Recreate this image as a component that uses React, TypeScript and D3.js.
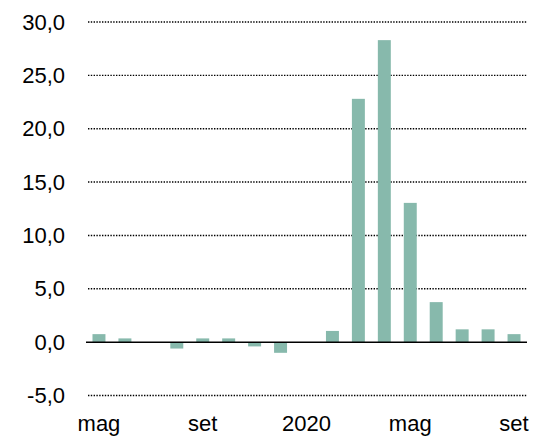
import React from "react";
import * as d3 from "d3";

const months = ["2019-05","2019-06","2019-07","2019-08","2019-09","2019-10","2019-11","2019-12","2020-01","2020-02","2020-03","2020-04","2020-05","2020-06","2020-07","2020-08","2020-09"];
const values = [0.75, 0.35, 0, -0.6, 0.35, 0.35, -0.4, -1.0, 0, 1.05, 22.8, 28.3, 13.05, 3.75, 1.2, 1.2, 0.75];
const xLabels: Record<string, string> = { "2019-05": "mag", "2019-09": "set", "2020-01": "2020", "2020-05": "mag", "2020-09": "set" };
const yTicks = [-5, 0, 5, 10, 15, 20, 25, 30];

export default function App() {
  const W = 541, H = 439;
  const left = 86, right = 527;
  const x = d3.scaleBand<string>().domain(months).range([left, right]).paddingInner(0.5).paddingOuter(0.25);
  const y = d3.scaleLinear().domain([-5, 30]).range([395.5, 22]);
  const fmt = (v: number) => v.toFixed(1).replace(".", ",");
  const font = "Liberation Sans, Arial, sans-serif";
  return (
    <svg width={W} height={H} style={{ position: "absolute", left: 0, top: 0 }}>
      <rect width={W} height={H} fill="#fff" />
      {yTicks.filter(t => t !== 0).map(t => (
        <line key={t} x1={left + 2} x2={right} y1={y(t)} y2={y(t)} stroke="#000" strokeWidth={1.4} strokeDasharray="1.4,1.4" />
      ))}
      {months.map((m, i) => {
        const v = values[i];
        const y0 = y(0), y1 = y(v);
        return (
          <rect key={m} x={x(m)} width={x.bandwidth()} y={Math.min(y0, y1)} height={Math.abs(y1 - y0)} fill="#87b9ac" />
        );
      })}
      <line x1={left} x2={right} y1={y(0)} y2={y(0)} stroke="#000" strokeWidth={1.5} />
      {yTicks.map(t => (
        <text key={t} x={65} y={y(t)} dy="0.35em" textAnchor="end" fontFamily={font} fontSize={22} fill="#000">{fmt(t)}</text>
      ))}
      {months.filter(m => xLabels[m]).map(m => (
        <text key={m} x={(x(m) as number) + x.bandwidth() / 2} y={431} textAnchor="middle" fontFamily={font} fontSize={22} fill="#000">{xLabels[m]}</text>
      ))}
    </svg>
  );
}
